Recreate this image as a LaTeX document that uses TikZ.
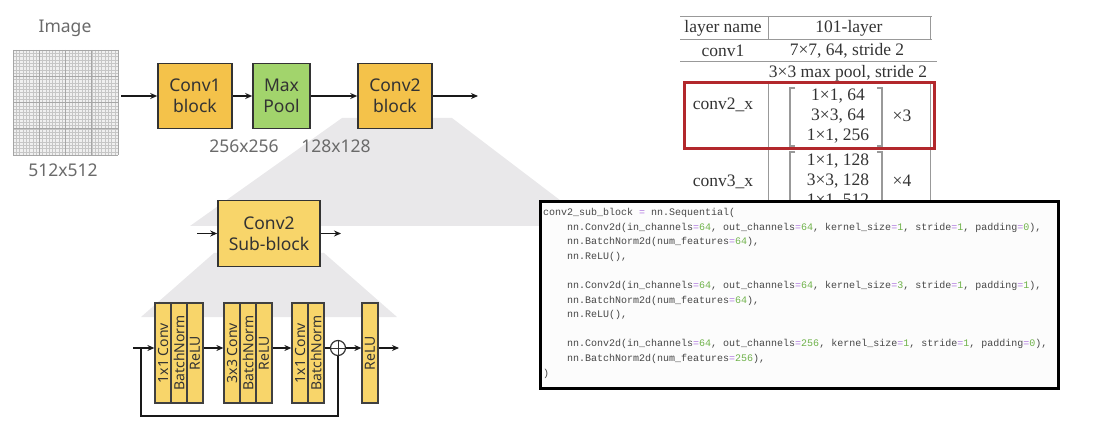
\documentclass[tikz,border=0pt]{standalone}
\usepackage{fontspec}
\setmainfont{Noto Sans}
\newfontfamily\tablafont{Liberation Serif}
\newfontfamily\codigofont{Liberation Mono}
\usetikzlibrary{arrows.meta,calc}
\definecolor{amarillo}{HTML}{F4C24A}
\definecolor{amarilloClaro}{HTML}{F8D56A}
\definecolor{verdePool}{HTML}{A2D46C}
\definecolor{grisSombra}{HTML}{E9E8EA}
\definecolor{grisTexto}{HTML}{6A6A6A}
\definecolor{rojoMarco}{HTML}{B2282C}
\definecolor{verdeNum}{HTML}{6FB24A}
\definecolor{moradoEq}{HTML}{B07AE0}
\newcommand\ceq{\textcolor{moradoEq}{=}}
\newcommand\cn[1]{\textcolor{verdeNum}{#1}}

\begin{document}
\begin{tikzpicture}[x=1pt,y=-1pt,>={Stealth[length=7pt,width=6pt]},
  bloque/.style={draw=black!80,line width=1.6pt,fill=amarillo,align=center,
    font=\fontsize{17.5}{21}\selectfont,text=black!80,inner sep=0pt},
  tira/.style={draw=black!75,line width=1.2pt,fill=amarilloClaro,inner sep=0pt,
    minimum width=16pt,minimum height=100pt,font=\fontsize{14}{15}\selectfont,text=black!80},
  flecha/.style={->,line width=1.7pt,black!90},
  etiqueta/.style={text=grisTexto,font=\fontsize{17.5}{20}\selectfont},
  tabla/.style={text=black!80,font=\tablafont\fontsize{17.5}{20}\selectfont,inner sep=0pt,align=center},
  regla/.style={gray!80,line width=1pt}]
  \useasboundingbox (0,0) rectangle (1094,438);

  % sombras
  \fill[grisSombra] (342,118) -- (452,118) -- (594,226) -- (190,226) -- cycle;
  \fill[grisSombra] (214,253) -- (324,253) -- (397,317) -- (141,317) -- cycle;

  % fila principal
  \node[etiqueta] (tImg) at (65,28) {Image};
  \node[fill=gray!12,minimum size=105pt,inner sep=0pt] (img) at (65.5,102.5) {};
  \foreach \i in {0,...,32}{
    \draw[gray!45,line width=.35pt] (13+3.28*\i,50) -- (13+3.28*\i,155);
    \draw[gray!45,line width=.35pt] (13,50+3.28*\i) -- (118,50+3.28*\i);
  }
  \foreach \i in {0,8,16,24,32}{
    \draw[gray!70,line width=.5pt] (13+3.28*\i,50) -- (13+3.28*\i,155);
    \draw[gray!70,line width=.5pt] (13,50+3.28*\i) -- (118,50+3.28*\i);
  }
  \node[etiqueta] (tImgSize) at (63,170) {512x512};

  \node[bloque,minimum width=74pt,minimum height=65pt] (conv1) at (195,96) {Conv1\\block};
  \node[bloque,fill=verdePool,minimum width=57pt,minimum height=65pt] (pool) at (281.5,96) {Max\\Pool};
  \node[bloque,minimum width=74pt,minimum height=65pt] (conv2) at (395,96) {Conv2\\block};
  \coordinate (salida) at (478,96);
  \draw[flecha,shorten <=3pt] (conv1.west -| img.east) -- (conv1.west);
  \draw[flecha] (conv1.east) -- (pool.west);
  \draw[flecha] (pool.east) -- (conv2.west);
  \draw[flecha] (conv2.east) -- (salida);
  \node[etiqueta] (t256) at (244,146) {256x256};
  \node[etiqueta] (t128) at (336,146) {128x128};

  % sub-bloque
  \node[bloque,fill=amarilloClaro,minimum width=102pt,minimum height=66pt] (sub) at (269,233.5) {Conv2\\Sub-block};
  \coordinate (subIn) at (197,233.5);
  \coordinate (subOut) at (341,233.5);
  \draw[flecha,line width=1.5pt] (subIn) -- (sub.west);
  \draw[flecha,line width=1.5pt] (sub.east) -- (subOut);

  % capas del sub-bloque
  \node[tira] (b1a) at (163,353) {\rotatebox{90}{1x1 Conv}};
  \node[tira] (b1b) at (179,353) {\rotatebox{90}{BatchNorm}};
  \node[tira] (b1c) at (195,353) {\rotatebox{90}{ReLU}};
  \node[tira] (b2a) at (232,353) {\rotatebox{90}{3x3 Conv}};
  \node[tira] (b2b) at (248,353) {\rotatebox{90}{BatchNorm}};
  \node[tira] (b2c) at (264,353) {\rotatebox{90}{ReLU}};
  \node[tira] (b3a) at (300,353) {\rotatebox{90}{1x1 Conv}};
  \node[tira] (b3b) at (316,353) {\rotatebox{90}{BatchNorm}};
  \node[tira] (b4) at (370,353) {\rotatebox{90}{ReLU}};
  \node[circle,draw=black!80,line width=1.2pt,fill=white,minimum size=15pt,inner sep=0pt,
    path picture={\draw[black!80,line width=.9pt]
      (path picture bounding box.north) -- (path picture bounding box.south)
      (path picture bounding box.west) -- (path picture bounding box.east);}] (suma) at (338,348) {};
  \coordinate (entrada) at (133,348);
  \coordinate (rama) at (141,348);
  \coordinate (fin) at (399,348);
  \draw[flecha,line width=1.5pt] (entrada) -- (entrada -| b1a.west);
  \draw[flecha,line width=1.5pt] (b1c.east |- entrada) -- (entrada -| b2a.west);
  \draw[flecha,line width=1.5pt] (b2c.east |- entrada) -- (entrada -| b3a.west);
  \draw[line width=1.5pt,black!90] (b3b.east |- entrada) -- (suma.west);
  \draw[flecha,line width=1.5pt] (suma.east) -- (entrada -| b4.west);
  \draw[flecha,line width=1.5pt] (b4.east |- entrada) -- (fin);
  \draw[line width=1.5pt,black!90] (rama) -- ++(0,68) -| (suma.south);

  % tabla
  \draw[regla] (680,17) -- (932,17);
  \draw[regla] (680,40) -- (932,40);
  \draw[regla] (680,62) -- (937,62);
  \draw[regla] (768,17) -- (768,40);
  \draw[regla] (930,17) -- (930,40);
  \draw[regla] (768,83) -- (768,210);
  \draw[regla] (930,83) -- (930,210);
  \node[tabla] (hNombre) at (723,28) {layer name};
  \node[tabla] (hCapas) at (849,28) {101-layer};
  \node[tabla] (fConv1) at (723,51) {conv1};
  \node[tabla] (vConv1) at (847,51) {7×7, 64, stride 2};
  \node[tabla] (vPool) at (848,73) {3×3 max pool, stride 2};
  \node[tabla] (fConv2) at (723,105) {conv2\_x};
  \node[tabla] (vConv2) at (838,116) {1×1, 64\\3×3, 64\\1×1, 256};
  \node[tabla] (xConv2) at (902,116) {×3};
  \node[tabla] (fConv3) at (723,182) {conv3\_x};
  \node[tabla] (vConv3) at (838,181) {1×1, 128\\3×3, 128\\1×1, 512};
  \node[tabla] (xConv3) at (902,181) {×4};
  \draw[regla,line width=1.2pt] (795,88) -- (790,88) -- (790,146) -- (795,146);
  \draw[regla,line width=1.2pt] (877,88) -- (882,88) -- (882,146) -- (877,146);
  \draw[regla,line width=1.2pt] (795,152) -- (790,152) -- (790,210);
  \draw[regla,line width=1.2pt] (877,152) -- (882,152) -- (882,210);
  \draw[rojoMarco,line width=3pt] (684,83) rectangle (934,149);

  % codigo
  \draw[fill=black!1,line width=3pt] (540,202) rectangle (1058,388);
  \node[anchor=north west,inner sep=0pt,align=left,text=black!72,
    font=\codigofont\fontsize{10}{14.6}\selectfont] (codigo) at (543,208) {%
conv2\_sub\_block \ceq{} nn.Sequential(\\
\hspace*{24pt}nn.Conv2d(in\_channels\ceq\cn{64}, out\_channels\ceq\cn{64}, kernel\_size\ceq\cn{1}, stride\ceq\cn{1}, padding\ceq\cn{0}),\\
\hspace*{24pt}nn.BatchNorm2d(num\_features\ceq\cn{64}),\\
\hspace*{24pt}nn.ReLU(),\\[14.6pt]
\hspace*{24pt}nn.Conv2d(in\_channels\ceq\cn{64}, out\_channels\ceq\cn{64}, kernel\_size\ceq\cn{3}, stride\ceq\cn{1}, padding\ceq\cn{1}),\\
\hspace*{24pt}nn.BatchNorm2d(num\_features\ceq\cn{64}),\\
\hspace*{24pt}nn.ReLU(),\\[14.6pt]
\hspace*{24pt}nn.Conv2d(in\_channels\ceq\cn{64}, out\_channels\ceq\cn{256}, kernel\_size\ceq\cn{1}, stride\ceq\cn{1}, padding\ceq\cn{0}),\\
\hspace*{24pt}nn.BatchNorm2d(num\_features\ceq\cn{256}),\\
)};
\end{tikzpicture}
\end{document}
